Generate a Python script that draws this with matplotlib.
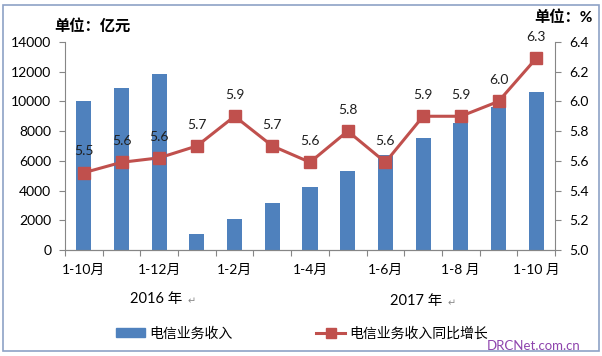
import matplotlib
matplotlib.use("Agg")
import matplotlib.pyplot as plt
from matplotlib.patches import Rectangle
from matplotlib.lines import Line2D

plt.rcParams['font.family'] = ['Lato', 'Noto Sans CJK SC', 'DejaVu Sans']

categories = ["1-10月", "1-11月", "1-12月", "1月", "1-2月", "1-3月", "1-4月",
              "1-5月", "1-6月", "1-7月", "1-8 月", "1-9月", "1-10 月"]
shown_labels = [0, 2, 4, 6, 8, 10, 12]
revenue = [10000, 10930, 11850, 1060, 2070, 3140, 4240, 5340, 6420, 7510, 8560, 9620, 10650]
growth = [5.52, 5.59, 5.62, 5.70, 5.90, 5.70, 5.59, 5.80, 5.59, 5.90, 5.90, 6.00, 6.29]
growth_labels = ["5.5", "5.6", "5.6", "5.7", "5.9", "5.7", "5.6", "5.8", "5.6", "5.9", "5.9", "6.0", "6.3"]
left_ticks = [0, 2000, 4000, 6000, 8000, 10000, 12000, 14000]
right_ticks = [5.0, 5.2, 5.4, 5.6, 5.8, 6.0, 6.2, 6.4]

bar_color = "#4F81BD"
line_color = "#C0504D"
axis_color = "#868686"

fig = plt.figure(figsize=(6.02, 3.56), dpi=100)
ax = fig.add_axes([0.108, 0.298, 0.814, 0.584])
ax2 = ax.twinx()

x = list(range(len(categories)))
ax.bar(x, revenue, width=0.4, color=bar_color, zorder=2)
ax.set_xlim(-0.5, len(categories) - 0.5)
ax.set_ylim(0, 14000)
ax.set_yticks(left_ticks)
ax.set_yticklabels([str(v) for v in left_ticks])
ax.set_xticks([i - 0.5 for i in range(len(categories) + 1)], minor=False)
ax.set_xticklabels([])
ax.set_xticks(x, minor=True)
ax.set_xticklabels([categories[i] if i in shown_labels else "" for i in x], minor=True)
ax.tick_params(axis='x', which='minor', length=0, pad=10, labelsize=10)
ax.tick_params(axis='x', which='major', length=4, color=axis_color, direction='out')
ax.tick_params(axis='y', length=4, color=axis_color, labelsize=10, pad=6)

ax2.plot(x, growth, color=line_color, lw=2.2, marker='s', markersize=9, zorder=3)
ax2.set_ylim(5.0, 6.4)
ax2.set_yticks(right_ticks)
ax2.set_yticklabels([f"{v:.1f}" for v in right_ticks])
ax2.tick_params(axis='y', length=4, color=axis_color, labelsize=10, pad=6)
for xi, yi, lab in zip(x, growth, growth_labels):
    ax2.annotate(lab, (xi, yi), xytext=(0, 11), textcoords='offset points',
                 ha='center', va='bottom', fontsize=10, color='#1F1F1F')

for a in (ax, ax2):
    a.spines['top'].set_visible(False)
    for s in ('left', 'right', 'bottom'):
        a.spines[s].set_color(axis_color)
ax2.spines['left'].set_visible(False)
ax.spines['right'].set_visible(False)

fig.text(0.09, 0.925, "单位：亿元", fontsize=11, fontweight='bold', ha='left', va='center')
fig.text(0.985, 0.95, "单位：%", fontsize=11, fontweight='bold', ha='right', va='center')
fig.text(0.216, 0.16, "2016 年", fontsize=10.5, ha='left', va='center')
fig.text(0.312, 0.153, "↵", fontsize=7, color='#888888', ha='left', va='center')
fig.text(0.648, 0.155, "2017 年", fontsize=10.5, ha='left', va='center')
fig.text(0.744, 0.148, "↵", fontsize=7, color='#888888', ha='left', va='center')

handles = [Rectangle((0, 0), 1, 1, color=bar_color),
           Line2D([0], [0], color=line_color, lw=2.2, marker='s', markersize=7)]
fig.legend(handles, ["电信业务收入", "电信业务收入同比增长"], loc='center',
           bbox_to_anchor=(0.502, 0.065), ncol=2, frameon=False, fontsize=10,
           columnspacing=6.0, handlelength=2.1, handletextpad=0.3, handleheight=0.6)

fig.text(0.965, 0.028, "DRCNet.com.cn", fontsize=9.5, color="#8E44AD", ha='right', va='center')

fig.patches.append(Rectangle((0.005, 0.015), 0.99, 0.97, transform=fig.transFigure,
                             fill=False, edgecolor="#8EA2C6", lw=1.2))

fig.savefig("out.png", dpi=100)
